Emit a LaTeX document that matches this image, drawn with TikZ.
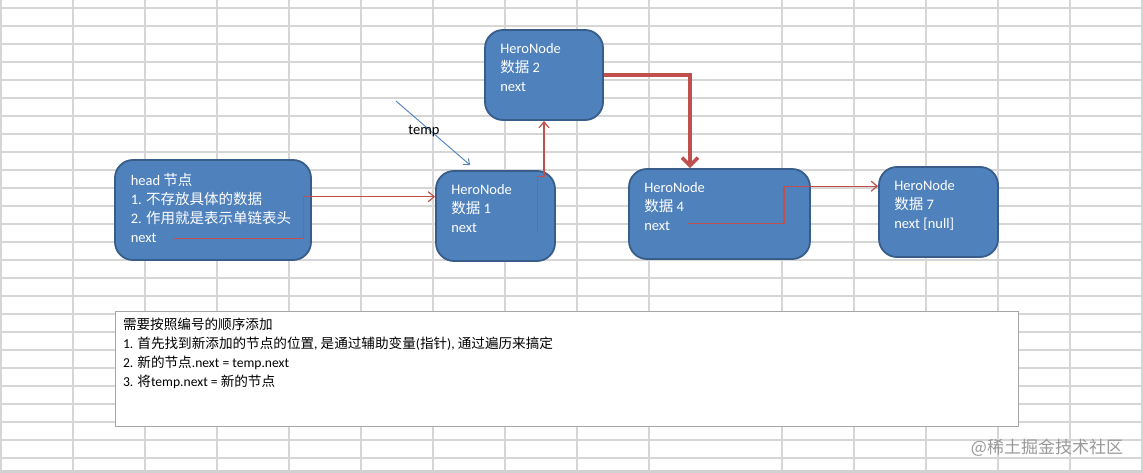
\documentclass[tikz,border=0pt]{standalone}
\usepackage{fontspec}
\setmainfont{Carlito}
\newfontfamily\cjk{Noto Sans CJK SC}
\newcommand{\zhtext}[1]{{\cjk #1}}
\usepackage{tikz}
\usetikzlibrary{arrows.meta, positioning, calc}

\definecolor{nodeblue}{RGB}{79,129,189}
\definecolor{nodeedge}{RGB}{56,93,138}
\definecolor{linkred}{RGB}{192,80,77}
\definecolor{gridgray}{RGB}{214,214,214}

\begin{document}
\begin{tikzpicture}[x=1pt, y=-1pt,
  gridline/.style={gridgray, line width=1.2pt},
  hero/.style={draw=nodeedge, fill=nodeblue, line width=1.8pt, rounded corners=18pt, inner sep=0pt},
  herotext/.style={anchor=north west, align=left, inner sep=0pt, text=white, font=\fontsize{14.5}{19}\selectfont},
  notetext/.style={anchor=north west, align=left, inner sep=0pt, text=black, font=\fontsize{13.6}{18.9}\selectfont},
  link/.style={linkred, line width=1.2pt, -{Straight Barb[length=6pt, width=10pt]}},
  biglink/.style={linkred, line width=3.5pt, -{Straight Barb[length=8pt, width=16pt]}},
  tempptr/.style={nodeblue, line width=0.9pt, -{Straight Barb[length=5pt, width=8pt]}},
]
\useasboundingbox (0,0) rectangle (1143,473);
\fill[white] (0,0) rectangle (1143,473);

% Spreadsheet grid
\foreach \gy in {8,26,...,458}
  \draw[gridline] (0,\gy) -- (1143,\gy);
\foreach \gx in {1,73,...,649}
  \draw[gridline] (\gx,0) -- (\gx,470);
\foreach \gx in {782,854,...,1142}
  \draw[gridline] (\gx,0) -- (\gx,470);
\fill[black!18] (0,470) rectangle (1143,473);

% Head node
\node[hero, minimum width=196pt, minimum height=100pt] (head) at (213,210) {};
\node[herotext] (headtxt) at ([shift={(16.5,12)}]head.north west)
  {\rule{0pt}{14pt}head \zhtext{节点}\\
   1. \zhtext{不存放具体的数据}\\
   2. \zhtext{作用就是表示单链表头}\\
   next};

% HeroNode boxes
\node[hero, minimum width=119pt, minimum height=90pt] (n1) at (495.5,216) {};
\node[herotext] (n1txt) at ([shift={(16,10.5)}]n1.north west)
  {\rule{0pt}{14pt}HeroNode\\ \zhtext{数据} 1\\ next};

\node[hero, minimum width=118pt, minimum height=90pt] (n2) at (544,75) {};
\node[herotext] (n2txt) at ([shift={(16,10.5)}]n2.north west)
  {\rule{0pt}{14pt}HeroNode\\ \zhtext{数据} 2\\ next};

\node[hero, minimum width=181pt, minimum height=90pt] (n4) at (719.5,214) {};
\node[herotext] (n4txt) at ([shift={(16,10.5)}]n4.north west)
  {\rule{0pt}{14pt}HeroNode\\ \zhtext{数据} 4\\ next};

\node[hero, minimum width=119pt, minimum height=90pt] (n7) at (938.5,212) {};
\node[herotext] (n7txt) at ([shift={(16,10.5)}]n7.north west)
  {\rule{0pt}{14pt}HeroNode\\ \zhtext{数据} 7\\ next [null]};

% next links
\coordinate (headnext) at (172.7,238.3);
\draw[link] (headnext) -- ++(130.6,0) |- ([yshift=19.3pt]n1.west);

\coordinate (n1next) at (537.7,233);
\draw[link] (n1next) -- ++(0,-56.3) -| (n2.south);

\draw[biglink] (n2.east) -| ([xshift=-29.5pt]n4.north);

\coordinate (n4next) at (688.3,223.3);
\draw[link] (n4next) -- ++(95.7,0) |- ([yshift=25.8pt]n7.west);

% temp pointer
\coordinate (tempstart) at (396,101);
\draw[tempptr] (tempstart) -- ($(n1.north west)+(35,-5)$);
\node[font=\fontsize{14.5}{17}\selectfont] (templabel) at (424,131) {temp};

% Note box
\node[draw=black!35, fill=white, line width=1pt, minimum width=903pt, minimum height=115pt, inner sep=0pt] (note) at (566.5,368.5) {};
\node[notetext] (notetxt) at ([shift={(8.3,5)}]note.north west)
  {\rule{0pt}{14pt}\zhtext{需要按照编号的顺序添加}\\
   1. \zhtext{首先找到新添加的节点的位置}, \zhtext{是通过辅助变量}(\zhtext{指针}), \zhtext{通过遍历来搞定}\\
   2. \zhtext{新的节点}.next = temp.next\\
   3. \zhtext{将}temp.next = \zhtext{新的节点}};

% Watermark
\node[text=black!40, font=\cjk\fontsize{17}{20}\selectfont] (watermark) at (1047,448) {@稀土掘金技术社区};
\end{tikzpicture}
\end{document}
